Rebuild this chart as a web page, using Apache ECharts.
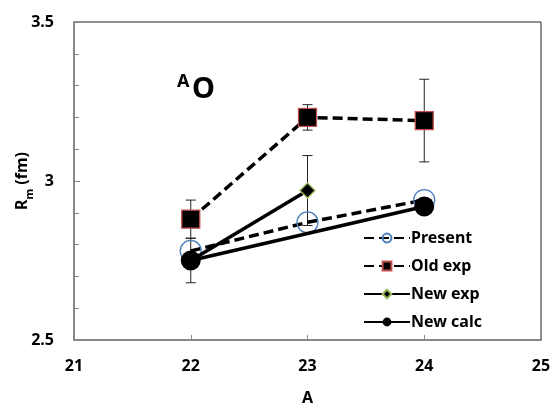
<!DOCTYPE html>
<html>
<head>
<meta charset="UTF-8">
<title>Rm vs A</title>
<script src="https://cdn.jsdelivr.net/npm/echarts@6/dist/echarts.min.js"></script>
<style>
  html, body { margin: 0; padding: 0; background: #fff; }
  #main { width: 552px; height: 407px; }
</style>
</head>
<body>
<div id="main"></div>
<script type="text/javascript">
    // data
    var presentA = [22, 23, 24];
    var presentR = [2.78, 2.87, 2.94];

    var oldExpA = [22, 23, 24];
    var oldExpR = [2.88, 3.20, 3.19];
    var oldExpLo = [2.82, 3.16, 3.06];
    var oldExpHi = [2.94, 3.24, 3.32];

    var newExpA = [22, 23];
    var newExpR = [2.75, 2.97];
    var newExpLo = [2.68, 2.86];
    var newExpHi = [2.82, 3.08];

    var newCalcA = [22, 24];
    var newCalcR = [2.75, 2.92];

    var xTicks = [21, 22, 23, 24, 25];
    var yTicks = [2.5, 3, 3.5];

    var font = '"Noto Sans", sans-serif';

    function pairs(xs, ys) {
        var out = [];
        for (var i = 0; i < xs.length; i++) out.push([xs[i], ys[i]]);
        return out;
    }
    function errs(xs, lo, hi) {
        var out = [];
        for (var i = 0; i < xs.length; i++) out.push([xs[i], lo[i], hi[i]]);
        return out;
    }

    function errorBar(params, api) {
        var x = api.value(0);
        var lo = api.coord([x, api.value(1)]);
        var hi = api.coord([x, api.value(2)]);
        var w = 5;
        var st = { stroke: '#222', lineWidth: 1 };
        return {
            type: 'group',
            children: [
                { type: 'line', shape: { x1: lo[0], y1: lo[1], x2: hi[0], y2: hi[1] }, style: st },
                { type: 'line', shape: { x1: lo[0] - w, y1: lo[1], x2: lo[0] + w, y2: lo[1] }, style: st },
                { type: 'line', shape: { x1: hi[0] - w, y1: hi[1], x2: hi[0] + w, y2: hi[1] }, style: st }
            ]
        };
    }

    var boldText = { fontFamily: font, fontWeight: 'bold', fontSize: 16, color: '#000' };

    var myChart = echarts.init(document.getElementById('main'));

    var option = {
        animation: false,
        textStyle: { fontFamily: font, fontWeight: 'bold' },
        grid: {
            left: 74, right: 11, top: 22, bottom: 67,
            outerBoundsMode: 'none',
            containLabel: false,
            show: true, borderColor: '#222', borderWidth: 1
        },
        graphic: [
            { type: 'text', left: 177, top: 73, style: { text: 'A', font: 'bold 18px ' + font, fill: '#000' } },
            { type: 'text', left: 192, top: 75, style: { text: 'O', font: 'bold 29px ' + font, fill: '#000' } }
        ],
        legend: {
            orient: 'vertical',
            left: 358,
            top: 225,
            itemWidth: 46,
            itemHeight: 11,
            itemGap: 12,
            data: ['Present', 'Old exp', 'New exp', 'New calc'],
            textStyle: { fontFamily: font, fontWeight: 'bold', fontSize: 16, color: '#000', padding: [0, 0, 0, -4] }
        },
        xAxis: {
            type: 'value',
            min: xTicks[0],
            max: xTicks[xTicks.length - 1],
            interval: 1,
            name: 'A',
            nameLocation: 'middle',
            nameGap: 50,
            nameMoveOverlap: false,
            nameTextStyle: boldText,
            axisLine: { show: true, lineStyle: { color: '#888', width: 2 } },
            axisTick: { show: true, inside: true, length: 5, lineStyle: { color: '#888' } },
            axisLabel: {
                margin: 18,
                formatter: function (v) { return '{b|' + v + '}'; },
                rich: { b: boldText }
            },
            splitLine: { show: false }
        },
        yAxis: {
            type: 'value',
            min: yTicks[0],
            max: yTicks[yTicks.length - 1],
            interval: 0.5,
            name: '{r|R}{m|m}{r| (fm)}',
            nameLocation: 'middle',
            nameRotate: 90,
            nameGap: 42,
            nameMoveOverlap: false,
            nameTextStyle: {
                rich: {
                    r: { fontFamily: font, fontWeight: 'bold', fontSize: 16, color: '#000', lineHeight: 20, verticalAlign: 'middle' },
                    m: { fontFamily: font, fontWeight: 'bold', fontSize: 11, color: '#000', lineHeight: 20, verticalAlign: 'bottom', padding: [0, 0, -3, 0] }
                }
            },
            axisLine: { show: true, lineStyle: { color: '#888', width: 2 } },
            axisTick: { show: true, inside: true, length: 6, lineStyle: { color: '#888' } },
            minorTick: { show: true, splitNumber: 5, length: 5, lineStyle: { color: '#888' } },
            axisLabel: {
                margin: 20,
                formatter: function (v) { return '{b|' + (v === 3 ? '3' : v.toFixed(1)) + '}'; },
                rich: { b: boldText }
            },
            splitLine: { show: false }
        },
        series: [
            {
                name: 'oldErr', type: 'custom', renderItem: errorBar, z: 1,
                data: errs(oldExpA, oldExpLo, oldExpHi)
            },
            {
                name: 'newErr', type: 'custom', renderItem: errorBar, z: 1,
                data: errs(newExpA, newExpLo, newExpHi)
            },
            {
                name: 'Present', type: 'line', z: 3,
                data: pairs(presentA, presentR),
                symbol: 'circle', symbolSize: 21,
                lineStyle: { color: '#000', width: 3.5, type: [10, 5] },
                itemStyle: { color: 'rgba(255,255,255,0)', borderColor: '#4a7ebb', borderWidth: 1.3 }
            },
            {
                name: 'Old exp', type: 'line', z: 3,
                data: pairs(oldExpA, oldExpR),
                symbol: 'rect', symbolSize: 18,
                lineStyle: { color: '#000', width: 3.5, type: [10, 5] },
                itemStyle: { color: '#000', borderColor: '#c0504d', borderWidth: 1.3 }
            },
            {
                name: 'New exp', type: 'line', z: 4,
                data: pairs(newExpA, newExpR),
                symbol: 'diamond', symbolSize: 15,
                lineStyle: { color: '#000', width: 3.5 },
                itemStyle: { color: '#000', borderColor: '#9bbb59', borderWidth: 1.3 }
            },
            {
                name: 'New calc', type: 'line', z: 5,
                data: pairs(newCalcA, newCalcR),
                symbol: 'circle', symbolSize: 20,
                lineStyle: { color: '#000', width: 3.5 },
                itemStyle: { color: '#000' }
            }
        ]
    };

    myChart.setOption(option);
</script>
</body>
</html>
